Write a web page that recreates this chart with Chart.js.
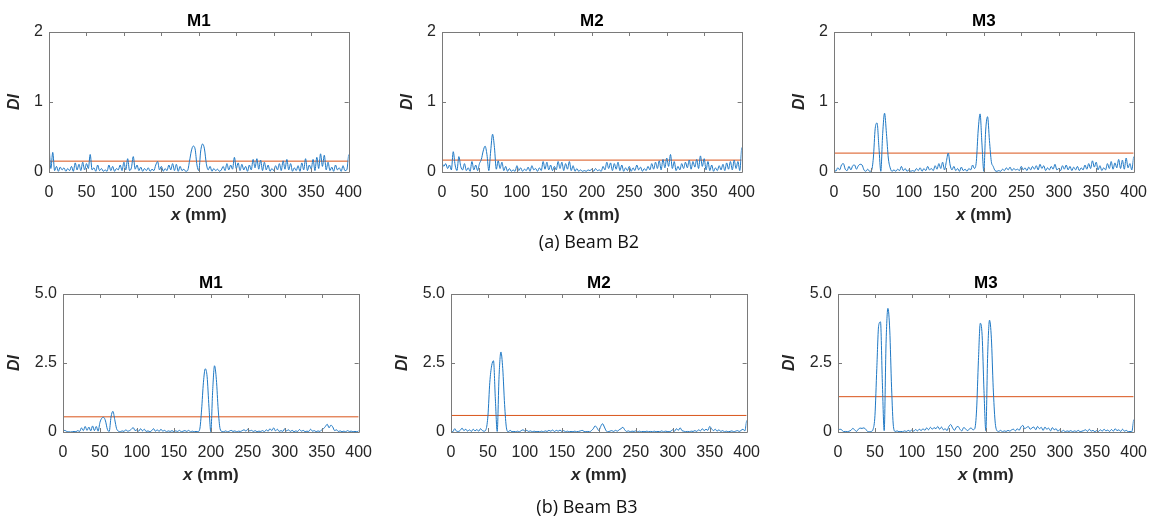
<!DOCTYPE html>
<html>
<head>
<meta charset="utf-8">
<script src="https://cdn.jsdelivr.net/npm/chart.js@4"></script>
<style>
  body { margin: 0; background: #fff; overflow: hidden; }
  #wrap { position: relative; width: 1153px; height: 518px; overflow: hidden; }
  canvas { position: absolute; }
  .cap { position: absolute; width: 240px; text-align: center; font-family: "Open Sans", sans-serif; font-size: 18px; line-height: 24px; color: #111; }
</style>
</head>
<body>
<div id="wrap">
  <canvas id="c0"></canvas>
  <canvas id="c1"></canvas>
  <canvas id="c2"></canvas>
  <canvas id="c3"></canvas>
  <canvas id="c4"></canvas>
  <canvas id="c5"></canvas>
  <div class="cap" style="left:469px; top:229px;">(a) Beam B2</div>
  <div class="cap" style="left:467px; top:494px;">(b) Beam B3</div>
</div>
<script>
// sample positions along the beam (mm)
const SAMPLE_X = [
  0, 2.5, 5, 7.5, 10, 12.5, 15, 17.5, 20, 22.5,
  25, 27.5, 30, 32.5, 35, 37.5, 40, 42.5, 45, 47.5,
  50, 52.5, 55, 57.5, 60, 62.5, 65, 67.5, 70, 72.5,
  75, 77.5, 80, 82.5, 85, 87.5, 90, 92.5, 95, 97.5,
  100, 102.5, 105, 107.5, 110, 112.5, 115, 117.5, 120, 122.5,
  125, 127.5, 130, 132.5, 135, 137.5, 140, 142.5, 145, 147.5,
  150, 152.5, 155, 157.5, 160, 162.5, 165, 167.5, 170, 172.5,
  175, 177.5, 180, 182.5, 185, 187.5, 190, 192.5, 195, 197.5,
  200, 202.5, 205, 207.5, 210, 212.5, 215, 217.5, 220, 222.5,
  225, 227.5, 230, 232.5, 235, 237.5, 240, 242.5, 245, 247.5,
  250, 252.5, 255, 257.5, 260, 262.5, 265, 267.5, 270, 272.5,
  275, 277.5, 280, 282.5, 285, 287.5, 290, 292.5, 295, 297.5,
  300, 302.5, 305, 307.5, 310, 312.5, 315, 317.5, 320, 322.5,
  325, 327.5, 330, 332.5, 335, 337.5, 340, 342.5, 345, 347.5,
  350, 352.5, 355, 357.5, 360, 362.5, 365, 367.5, 370, 372.5,
  375, 377.5, 380, 382.5, 385, 387.5, 390, 392.5, 395, 397.5,
  400
];

// damage index, beam B2
const B2_M1 = [
  0.40, 0.05, 0.28, 0.02, 0.08, 0.01, 0.07, 0.03, 0.06, 0.01,
  0.05, 0.02, 0.08, 0.01, 0.13, 0.03, 0.11, 0.02, 0.14, 0.03,
  0.12, 0.05, 0.25, 0.03, 0.06, 0.01, 0.10, 0.02, 0.05, 0.01,
  0.03, 0.01, 0.10, 0.02, 0.08, 0.01, 0.05, 0.03, 0.10, 0.02,
  0.14, 0.03, 0.19, 0.02, 0.06, 0.22, 0.04, 0.10, 0.02, 0.07,
  0.01, 0.05, 0.02, 0.06, 0.01, 0.04, 0.02, 0.10, 0.15, 0.03,
  0.08, 0.01, 0.05, 0.02, 0.10, 0.03, 0.12, 0.02, 0.11, 0.01,
  0.08, 0.02, 0.04, 0.01, 0.02, 0.15, 0.30, 0.37, 0.33, 0.10,
  0.02, 0.30, 0.40, 0.33, 0.12, 0.03, 0.08, 0.01, 0.05, 0.02,
  0.04, 0.01, 0.03, 0.08, 0.02, 0.12, 0.03, 0.10, 0.04, 0.21,
  0.05, 0.13, 0.02, 0.11, 0.03, 0.08, 0.01, 0.10, 0.03, 0.18,
  0.06, 0.19, 0.04, 0.17, 0.02, 0.14, 0.03, 0.10, 0.01, 0.05,
  0.02, 0.09, 0.03, 0.12, 0.02, 0.16, 0.04, 0.18, 0.03, 0.12,
  0.01, 0.06, 0.02, 0.09, 0.01, 0.13, 0.03, 0.19, 0.02, 0.10,
  0.04, 0.18, 0.02, 0.21, 0.05, 0.26, 0.08, 0.24, 0.03, 0.14,
  0.02, 0.07, 0.01, 0.10, 0.03, 0.06, 0.01, 0.09, 0.02, 0.03,
  0.25
];
const B2_M2 = [
  0.13, 0.08, 0.12, 0.05, 0.10, 0.03, 0.29, 0.10, 0.02, 0.22,
  0.08, 0.03, 0.12, 0.02, 0.06, 0.01, 0.15, 0.03, 0.10, 0.02,
  0.12, 0.18, 0.30, 0.37, 0.25, 0.02, 0.30, 0.54, 0.35, 0.04,
  0.16, 0.05, 0.14, 0.02, 0.08, 0.01, 0.05, 0.01, 0.03, 0.01,
  0.09, 0.02, 0.06, 0.01, 0.04, 0.02, 0.07, 0.01, 0.09, 0.03,
  0.05, 0.01, 0.06, 0.02, 0.15, 0.04, 0.14, 0.03, 0.10, 0.02,
  0.08, 0.03, 0.15, 0.05, 0.14, 0.02, 0.12, 0.04, 0.15, 0.02,
  0.09, 0.01, 0.05, 0.01, 0.03, 0.01, 0.02, 0.01, 0.03, 0.02,
  0.04, 0.01, 0.05, 0.02, 0.03, 0.01, 0.08, 0.03, 0.14, 0.05,
  0.13, 0.02, 0.12, 0.04, 0.14, 0.02, 0.10, 0.01, 0.06, 0.02,
  0.08, 0.01, 0.06, 0.02, 0.10, 0.03, 0.07, 0.01, 0.05, 0.02,
  0.08, 0.03, 0.12, 0.04, 0.14, 0.05, 0.16, 0.03, 0.18, 0.06,
  0.20, 0.08, 0.25, 0.05, 0.15, 0.02, 0.08, 0.03, 0.12, 0.05,
  0.14, 0.06, 0.17, 0.04, 0.15, 0.07, 0.18, 0.05, 0.23, 0.08,
  0.19, 0.03, 0.15, 0.02, 0.10, 0.01, 0.06, 0.02, 0.09, 0.03,
  0.11, 0.02, 0.13, 0.04, 0.15, 0.03, 0.17, 0.05, 0.15, 0.02,
  0.35
];
const B2_M3 = [
  0.05, 0.01, 0.06, 0.03, 0.10, 0.12, 0.04, 0.02, 0.08, 0.03,
  0.09, 0.10, 0.04, 0.09, 0.11, 0.10, 0.03, 0.01, 0.04, 0.01,
  0.02, 0.20, 0.62, 0.70, 0.35, 0.01, 0.55, 0.84, 0.55, 0.20,
  0.06, 0.01, 0.03, 0.01, 0.04, 0.02, 0.08, 0.02, 0.05, 0.01,
  0.03, 0.01, 0.02, 0.01, 0.05, 0.02, 0.06, 0.01, 0.05, 0.02,
  0.08, 0.03, 0.05, 0.02, 0.09, 0.04, 0.12, 0.05, 0.14, 0.03,
  0.15, 0.27, 0.10, 0.03, 0.08, 0.02, 0.05, 0.01, 0.07, 0.02,
  0.04, 0.01, 0.05, 0.03, 0.10, 0.05, 0.15, 0.60, 0.83, 0.40,
  0.01, 0.60, 0.79, 0.45, 0.15, 0.08, 0.02, 0.01, 0.02, 0.01,
  0.04, 0.02, 0.06, 0.03, 0.07, 0.02, 0.05, 0.03, 0.04, 0.02,
  0.08, 0.03, 0.06, 0.02, 0.07, 0.03, 0.08, 0.04, 0.09, 0.03,
  0.11, 0.05, 0.09, 0.02, 0.06, 0.03, 0.08, 0.04, 0.11, 0.03,
  0.05, 0.02, 0.09, 0.04, 0.10, 0.03, 0.08, 0.02, 0.07, 0.03,
  0.08, 0.02, 0.06, 0.03, 0.10, 0.04, 0.12, 0.05, 0.16, 0.07,
  0.14, 0.03, 0.09, 0.02, 0.06, 0.03, 0.12, 0.05, 0.15, 0.04,
  0.13, 0.06, 0.18, 0.05, 0.17, 0.04, 0.20, 0.06, 0.12, 0.03,
  0.22
];

// damage index, beam B3
const B3_M1 = [
  0.02, 0.06, 0.02, 0.01, 0.00, 0.01, 0.02, 0.01, 0.05, 0.02,
  0.15, 0.05, 0.20, 0.06, 0.18, 0.04, 0.22, 0.05, 0.20, 0.03,
  0.35, 0.50, 0.53, 0.40, 0.10, 0.02, 0.55, 0.75, 0.45, 0.12,
  0.03, 0.01, 0.04, 0.02, 0.08, 0.03, 0.05, 0.10, 0.16, 0.05,
  0.08, 0.03, 0.12, 0.04, 0.10, 0.02, 0.04, 0.01, 0.05, 0.12,
  0.03, 0.08, 0.02, 0.10, 0.03, 0.06, 0.01, 0.04, 0.02, 0.05,
  0.01, 0.04, 0.02, 0.06, 0.01, 0.03, 0.05, 0.02, 0.06, 0.01,
  0.03, 0.01, 0.02, 0.01, 0.10, 0.80, 1.80, 2.29, 2.00, 0.90,
  0.01, 1.50, 2.40, 1.90, 0.80, 0.12, 0.02, 0.01, 0.04, 0.01,
  0.03, 0.06, 0.02, 0.04, 0.01, 0.03, 0.02, 0.05, 0.08, 0.03,
  0.10, 0.04, 0.06, 0.02, 0.05, 0.01, 0.03, 0.02, 0.05, 0.01,
  0.08, 0.03, 0.12, 0.05, 0.15, 0.04, 0.10, 0.02, 0.05, 0.02,
  0.12, 0.04, 0.08, 0.02, 0.06, 0.01, 0.04, 0.02, 0.09, 0.03,
  0.06, 0.01, 0.03, 0.02, 0.10, 0.03, 0.05, 0.01, 0.04, 0.02,
  0.08, 0.12, 0.20, 0.28, 0.15, 0.25, 0.18, 0.05, 0.08, 0.02,
  0.04, 0.01, 0.03, 0.01, 0.05, 0.02, 0.03, 0.01, 0.02, 0.01,
  0.04
];
const B3_M2 = [
  0.03, 0.01, 0.12, 0.03, 0.02, 0.06, 0.14, 0.05, 0.10, 0.03,
  0.08, 0.02, 0.10, 0.04, 0.09, 0.03, 0.12, 0.05, 0.03, 0.10,
  0.60, 1.80, 2.40, 2.58, 1.20, 0.02, 2.00, 2.90, 2.30, 1.00,
  0.15, 0.01, 0.06, 0.01, 0.02, 0.01, 0.03, 0.01, 0.05, 0.08,
  0.03, 0.06, 0.02, 0.04, 0.01, 0.03, 0.01, 0.02, 0.01, 0.03,
  0.01, 0.04, 0.02, 0.06, 0.03, 0.07, 0.02, 0.06, 0.03, 0.07,
  0.02, 0.05, 0.01, 0.03, 0.01, 0.02, 0.01, 0.03, 0.01, 0.02,
  0.04, 0.06, 0.02, 0.01, 0.02, 0.01, 0.05, 0.12, 0.22, 0.15,
  0.05, 0.20, 0.30, 0.18, 0.04, 0.01, 0.03, 0.05, 0.02, 0.06,
  0.03, 0.08, 0.12, 0.17, 0.08, 0.02, 0.04, 0.01, 0.03, 0.02,
  0.04, 0.01, 0.03, 0.01, 0.02, 0.01, 0.03, 0.01, 0.02, 0.01,
  0.03, 0.01, 0.02, 0.01, 0.04, 0.01, 0.03, 0.02, 0.01, 0.03,
  0.08, 0.03, 0.12, 0.06, 0.15, 0.05, 0.03, 0.01, 0.02, 0.01,
  0.03, 0.02, 0.05, 0.02, 0.08, 0.04, 0.12, 0.05, 0.10, 0.06,
  0.20, 0.12, 0.05, 0.10, 0.03, 0.08, 0.02, 0.05, 0.01, 0.03,
  0.01, 0.02, 0.04, 0.01, 0.03, 0.05, 0.02, 0.06, 0.10, 0.04,
  0.42
];
const B3_M3 = [
  0.03, 0.10, 0.08, 0.01, 0.02, 0.01, 0.03, 0.06, 0.13, 0.08,
  0.02, 0.10, 0.14, 0.13, 0.15, 0.10, 0.02, 0.01, 0.02, 0.10,
  0.60, 2.30, 3.85, 3.99, 1.80, 0.05, 3.20, 4.48, 3.70, 1.60,
  0.20, 0.02, 0.04, 0.01, 0.02, 0.01, 0.04, 0.02, 0.06, 0.02,
  0.08, 0.03, 0.09, 0.04, 0.10, 0.05, 0.12, 0.06, 0.15, 0.08,
  0.17, 0.10, 0.16, 0.12, 0.20, 0.10, 0.18, 0.08, 0.12, 0.05,
  0.20, 0.27, 0.15, 0.06, 0.17, 0.20, 0.10, 0.04, 0.16, 0.12,
  0.05, 0.10, 0.15, 0.08, 0.12, 0.80, 2.60, 3.94, 3.50, 1.50,
  0.05, 2.80, 4.05, 3.40, 1.60, 0.40, 0.05, 0.02, 0.06, 0.01,
  0.04, 0.02, 0.06, 0.03, 0.08, 0.10, 0.04, 0.12, 0.06, 0.18,
  0.24, 0.12, 0.16, 0.20, 0.10, 0.15, 0.18, 0.08, 0.20, 0.12,
  0.17, 0.06, 0.18, 0.10, 0.14, 0.04, 0.16, 0.08, 0.12, 0.03,
  0.08, 0.02, 0.06, 0.01, 0.04, 0.02, 0.05, 0.01, 0.04, 0.02,
  0.06, 0.01, 0.03, 0.05, 0.08, 0.02, 0.10, 0.03, 0.06, 0.01,
  0.05, 0.02, 0.08, 0.03, 0.10, 0.04, 0.07, 0.02, 0.09, 0.03,
  0.12, 0.05, 0.08, 0.02, 0.10, 0.03, 0.06, 0.01, 0.02, 0.01,
  0.45
];

// threshold line of each panel
const LIMITS = [0.155, 0.17, 0.27, 0.55, 0.60, 1.28];
const TITLES = ['M1', 'M2', 'M3', 'M1', 'M2', 'M3'];
const X_TICKS = [0, 50, 100, 150, 200, 250, 300, 350, 400];

const SERIES = [B2_M1, B2_M2, B2_M3, B3_M1, B3_M2, B3_M3];

// where each canvas goes on the page
const panels = [
  { left: 0,   top: 0,   w: 373, h: 235, yW: 49, yMax: 2, step: 1 },
  { left: 393, top: 0,   w: 373, h: 235, yW: 49, yMax: 2, step: 1 },
  { left: 785, top: 0,   w: 373, h: 235, yW: 49, yMax: 2, step: 1 },
  { left: 0,   top: 262, w: 383, h: 233, yW: 63, yMax: 5, step: 2.5 },
  { left: 388, top: 262, w: 383, h: 233, yW: 63, yMax: 5, step: 2.5 },
  { left: 775, top: 262, w: 383, h: 233, yW: 63, yMax: 5, step: 2.5 }
];

const FONT = '"Liberation Sans", Arial, sans-serif';
const AXIS_COLOR = '#7a7a7a';
const TEXT_COLOR = '#262626';

// MATLAB-like frame with inward ticks, plus panel title and x label
const matlabBox = {
    id: 'matlabBox',
    afterDatasetsDraw(chart, args, opts) {
        const ctx = chart.ctx;
        const a = chart.chartArea;
        const xs = chart.scales.x;
        const ys = chart.scales.y;
        const len = 4;
        ctx.save();
        ctx.strokeStyle = AXIS_COLOR;
        ctx.lineWidth = 1;
        ctx.beginPath();
        ctx.rect(Math.round(a.left) + 0.5, Math.round(a.top) + 0.5,
                 Math.round(a.right - a.left), Math.round(a.bottom - a.top));
        xs.ticks.forEach(t => {
            const px = Math.round(xs.getPixelForValue(t.value)) + 0.5;
            ctx.moveTo(px, a.bottom); ctx.lineTo(px, a.bottom - len);
            ctx.moveTo(px, a.top); ctx.lineTo(px, a.top + len);
        });
        ys.ticks.forEach(t => {
            const py = Math.round(ys.getPixelForValue(t.value)) + 0.5;
            ctx.moveTo(a.left, py); ctx.lineTo(a.left + len, py);
            ctx.moveTo(a.right, py); ctx.lineTo(a.right - len, py);
        });
        ctx.stroke();

        const cx = (a.left + a.right) / 2;
        // title
        ctx.fillStyle = '#000';
        ctx.font = 'bold 17px ' + FONT;
        ctx.textAlign = 'center';
        ctx.textBaseline = 'middle';
        ctx.fillText(opts.title, cx, a.top - 11);

        // x (mm) with italic x
        ctx.fillStyle = TEXT_COLOR;
        const f1 = 'italic bold 17px ' + FONT;
        const f2 = 'bold 17px ' + FONT;
        ctx.font = f1;
        const w1 = ctx.measureText('x').width;
        ctx.font = f2;
        const w2 = ctx.measureText(' (mm)').width;
        let x0 = cx - (w1 + w2) / 2;
        const ty = a.bottom + 43;
        ctx.textAlign = 'left';
        ctx.font = f1;
        ctx.fillText('x', x0, ty);
        ctx.font = f2;
        ctx.fillText(' (mm)', x0 + w1, ty);
        ctx.restore();
    }
};

panels.forEach((p, i) => {
    const cv = document.getElementById('c' + i);
    cv.width = p.w;
    cv.height = p.h;
    cv.style.left = p.left + 'px';
    cv.style.top = p.top + 'px';

    const curve = SAMPLE_X.map((x, k) => ({ x: x, y: SERIES[i][k] }));
    const limit = [{ x: 0, y: LIMITS[i] }, { x: 400, y: LIMITS[i] }];

    new Chart(cv.getContext('2d'), {
        type: 'line',
        data: {
            datasets: [
                {
                    data: curve,
                    borderColor: '#1f78c4',
                    borderWidth: 1,
                    pointRadius: 0,
                    cubicInterpolationMode: 'monotone',
                    fill: false
                },
                {
                    data: limit,
                    borderColor: '#d95319',
                    borderWidth: 1,
                    pointRadius: 0,
                    fill: false
                }
            ]
        },
        options: {
            responsive: false,
            animation: false,
            events: [],
            layout: { padding: { left: 0, right: 20, top: 32, bottom: 3 } },
            plugins: {
                legend: { display: false },
                tooltip: { enabled: false },
                matlabBox: { title: TITLES[i] }
            },
            scales: {
                x: {
                    type: 'linear',
                    min: 0,
                    max: 400,
                    afterBuildTicks: s => { s.ticks = X_TICKS.map(v => ({ value: v })); },
                    ticks: {
                        padding: 11,
                        maxRotation: 0,
                        autoSkip: false,
                        color: TEXT_COLOR,
                        font: { family: FONT, size: 16 }
                    },
                    grid: { display: false, drawTicks: false },
                    border: { display: false },
                    afterFit: s => { s.height = 60; }
                },
                y: {
                    min: 0,
                    max: p.yMax,
                    ticks: {
                        stepSize: p.step,
                        padding: 6,
                        color: TEXT_COLOR,
                        font: { family: FONT, size: 16 },
                        callback: v => (v === 0 ? '0' : (p.yMax > 2 ? v.toFixed(1) : String(v)))
                    },
                    grid: { display: false, drawTicks: false },
                    border: { display: false },
                    title: {
                        display: true,
                        text: 'DI',
                        color: TEXT_COLOR,
                        font: { family: FONT, size: 16, weight: 'bold', style: 'italic' },
                        padding: { top: 5, bottom: 0 }
                    },
                    afterFit: s => { s.width = p.yW; }
                }
            }
        },
        plugins: [matlabBox]
    });
});
</script>
</body>
</html>
